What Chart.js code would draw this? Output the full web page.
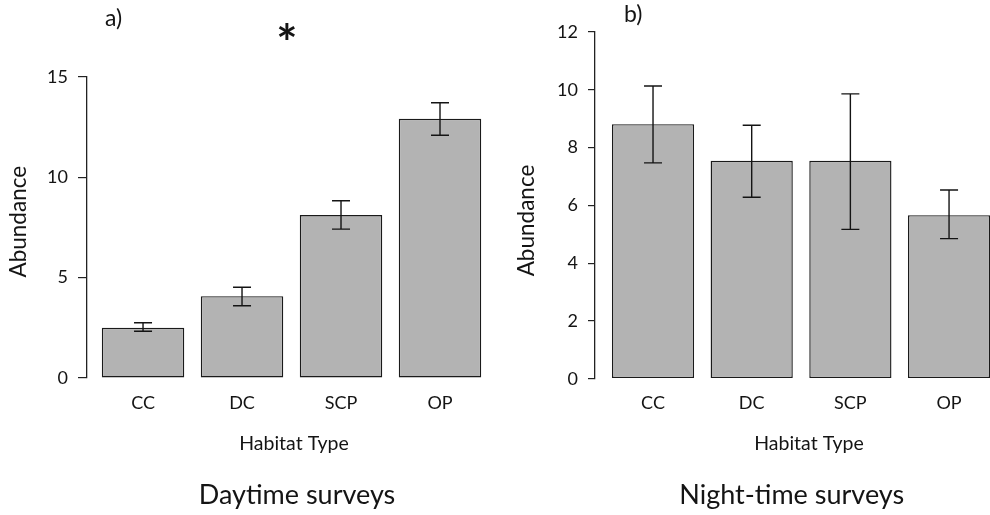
<!DOCTYPE html>
<html>
<head>
<meta charset="utf-8">
<script src="https://cdn.jsdelivr.net/npm/chart.js@4"></script>
<style>
  html, body { margin:0; padding:0; background:#fff; overflow:hidden; }
  #wrap { position:relative; width:990px; height:515px; }
  .panel { position:absolute; top:0; width:495px; height:515px; }
  #dayPanel { left:0; }
  #nightPanel { left:495px; }
</style>
</head>
<body>
<div id="wrap">
  <div class="panel" id="dayPanel"><canvas id="dayChart" width="495" height="515"></canvas></div>
  <div class="panel" id="nightPanel"><canvas id="nightChart" width="495" height="515"></canvas></div>
</div>
<script>
// habitat categories and survey means with their error-bar ends
const habitats = ['CC', 'DC', 'SCP', 'OP'];

const dayMean = [2.5, 4.08, 8.12, 12.92];
const dayLow = [2.33, 3.6, 7.42, 12.1];
const dayHigh = [2.75, 4.52, 8.83, 13.72];
const dayTicks = [0, 5, 10, 15];

const nightMean = [8.81, 7.54, 7.54, 5.66];
const nightLow = [7.47, 6.28, 5.17, 4.85];
const nightHigh = [10.13, 8.77, 9.86, 6.53];
const nightTicks = [0, 2, 4, 6, 8, 10, 12];

const INK = '#141414';
const BAR_FILL = '#b3b3b3';
const FONT = 'Lato, "Open Sans", sans-serif';

// draws the vertical error bars with flat caps
const errorBars = {
  id: 'errorBars',
  afterDatasetsDraw(chart, args, opts) {
    const {ctx, scales: {x, y}} = chart;
    const half = (opts.capWidth || 18) / 2;
    ctx.save();
    ctx.strokeStyle = opts.color || INK;
    ctx.lineWidth = opts.lineWidth || 1.4;
    opts.low.forEach((lo, i) => {
      const px = x.getPixelForValue(i);
      const yLo = y.getPixelForValue(lo);
      const yHi = y.getPixelForValue(opts.high[i]);
      ctx.beginPath();
      ctx.moveTo(px, yLo); ctx.lineTo(px, yHi);
      ctx.moveTo(px - half, yLo); ctx.lineTo(px + half, yLo);
      ctx.moveTo(px - half, yHi); ctx.lineTo(px + half, yHi);
      ctx.stroke();
    });
    ctx.restore();
  }
};

// free text: panel letters, axis titles, survey captions
const panelText = {
  id: 'panelText',
  afterDraw(chart, args, opts) {
    const ctx = chart.ctx;
    (opts.items || []).forEach(it => {
      ctx.save();
      ctx.fillStyle = INK;
      ctx.font = it.font;
      ctx.textAlign = it.align || 'center';
      ctx.textBaseline = 'alphabetic';
      let dy = 0;
      if (it.inkCenter) {
        // centre the glyph's ink box on the point (used for the asterisk)
        const m = ctx.measureText(it.text);
        dy = (m.actualBoundingBoxAscent - m.actualBoundingBoxDescent) / 2;
      }
      ctx.translate(it.x, it.y + dy);
      if (it.rotate) ctx.rotate(it.rotate);
      ctx.fillText(it.text, 0, 0);
      ctx.restore();
    });
  }
};

function makeChart(canvasId, cfg) {
  return new Chart(document.getElementById(canvasId), {
    type: 'bar',
    data: {
      datasets: [{
        data: cfg.mean.map((v, i) => ({x: i, y: v})),
        backgroundColor: BAR_FILL,
        borderColor: '#1a1a1a',
        borderWidth: 1.4,
        borderSkipped: false,
        barPercentage: 0.833,
        categoryPercentage: 1
      }]
    },
    options: {
      responsive: false,
      animation: false,
      devicePixelRatio: 1,
      layout: { padding: cfg.padding },
      plugins: {
        legend: { display: false },
        tooltip: { enabled: false },
        errorBars: { low: cfg.low, high: cfg.high, capWidth: 18 },
        panelText: { items: cfg.texts }
      },
      scales: {
        x: {
          type: 'linear',
          offset: false,
          min: cfg.xMin,
          max: cfg.xMax,
          afterBuildTicks: s => { s.ticks = habitats.map((h, i) => ({value: i})); },
          afterFit: s => { s.height = 40; },
          grid: { display: false, drawTicks: false, offset: false },
          border: { display: false },
          ticks: {
            padding: 14,
            color: INK,
            font: { family: FONT, size: 18 },
            callback: v => habitats[v]
          }
        },
        y: {
          min: 0,
          max: cfg.ticks[cfg.ticks.length - 1],
          afterBuildTicks: s => { s.ticks = cfg.ticks.map(v => ({value: v})); },
          afterFit: s => { s.width = cfg.axisWidth; },
          grid: { drawOnChartArea: false, drawTicks: true, tickLength: cfg.tickLength, color: '#222', lineWidth: 1.2 },
          border: { display: true, color: '#222', width: 1.3 },
          ticks: {
            padding: 10,
            color: INK,
            font: { family: FONT, size: 18 }
          }
        }
      }
    },
    plugins: [errorBars, panelText]
  });
}

makeChart('dayChart', {
  mean: dayMean, low: dayLow, high: dayHigh, ticks: dayTicks,
  xMin: -0.566, xMax: 3.5, axisWidth: 87, tickLength: 9,
  padding: { top: 77, left: 0, right: 5.5, bottom: 97 },
  texts: [
    { text: 'a)', x: 105, y: 26, align: 'left', font: '23px ' + FONT },
    { text: '*', x: 287, y: 31.5, inkCenter: true, font: 'bold 50px ' + FONT },
    { text: 'Abundance', x: 25.5, y: 221.7, rotate: -Math.PI / 2, font: '22.5px ' + FONT },
    { text: 'Habitat Type', x: 294, y: 450, font: '19.5px ' + FONT },
    { text: 'Daytime surveys', x: 297, y: 504, font: '27px ' + FONT }
  ]
});

makeChart('nightChart', {
  mean: nightMean, low: nightLow, high: nightHigh, ticks: nightTicks,
  xMin: -0.588, xMax: 3.415, axisWidth: 100, tickLength: 7,
  padding: { top: 32, left: 0, right: 0, bottom: 96.3 },
  texts: [
    { text: 'b)', x: 129, y: 22, align: 'left', font: '23px ' + FONT },
    { text: 'Abundance', x: 39, y: 220.5, rotate: -Math.PI / 2, font: '22.5px ' + FONT },
    { text: 'Habitat Type', x: 314, y: 450, font: '19.5px ' + FONT },
    { text: 'Night-time surveys', x: 296.7, y: 504, font: '27px ' + FONT }
  ]
});
</script>
</body>
</html>
